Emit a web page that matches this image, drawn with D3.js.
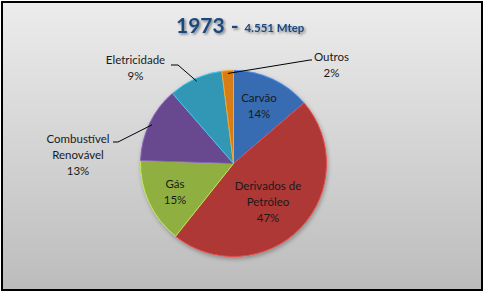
<!DOCTYPE html>
<html>
<head>
<meta charset="utf-8">
<script src="https://cdn.jsdelivr.net/npm/d3@7"></script>
<style>
  body { margin: 0; background: #fff; }
  svg text { font-family: Lato, "Open Sans", sans-serif; }
</style>
</head>
<body>
<svg id="chart" width="486" height="293"></svg>
<script>
// data (shares of 1973 final consumption)
const categories = ["Carvão", "Derivados de Petróleo", "Gás", "Combustível Renovável", "Eletricidade", "Outros"];
const shares = [13.7, 47.0, 14.8, 13.1, 9.4, 2.0];
const pctLabels = ["14%", "47%", "15%", "13%", "9%", "2%"];
const labelLines = [["Carvão"], ["Derivados de", "Petróleo"], ["Gás"], ["Combustível", "Renovável"], ["Eletricidade"], ["Outros"]];
const colors = ["#3f78c6", "#c23e3b", "#9fc446", "#7452a0", "#36a8c8", "#f08a1c"];

const W = 486, H = 293;
const svg = d3.select("#chart");
const defs = svg.append("defs");

// chart area background
const bg = defs.append("linearGradient").attr("id", "bg")
  .attr("x1", 0).attr("y1", 0).attr("x2", 0).attr("y2", 1);
bg.append("stop").attr("offset", "0%").attr("stop-color", "#ececec");
bg.append("stop").attr("offset", "100%").attr("stop-color", "#bcbcbc");

svg.append("rect")
  .attr("x", 2).attr("y", 2).attr("width", 480).attr("height", 288)
  .attr("fill", "url(#bg)")
  .attr("stroke", "#000").attr("stroke-width", 2);

// title
const shadow = defs.append("filter").attr("id", "tshadow")
  .attr("x", -0.2).attr("y", -0.3).attr("width", 1.4).attr("height", 1.6);
shadow.append("feDropShadow").attr("dx", 1.5).attr("dy", 1.5)
  .attr("stdDeviation", 1.2).attr("flood-color", "#000").attr("flood-opacity", 0.45);

const title = svg.append("text")
  .attr("x", 176).attr("y", 33)
  .attr("fill", "#1f497d")
  .attr("font-weight", "bold")
  .attr("filter", "url(#tshadow)");
title.append("tspan").attr("font-size", 21).text("1973");
title.append("tspan").attr("font-size", 21).attr("dx", 6).text("-");
title.append("tspan").attr("font-size", 11.5).attr("dx", 6).attr("dy", -1).text("4.551 Mtep");

// pie
const cx = 233.5, cy = 163.5, r = 93;
const pie = d3.pie().sort(null).value(d => d)
  .startAngle(0).endAngle(2 * Math.PI);
const arcs = pie(shares);
const arc = d3.arc().innerRadius(0).outerRadius(r);

colors.forEach((c, i) => {
  const g = defs.append("radialGradient").attr("id", "sl" + i)
    .attr("gradientUnits", "userSpaceOnUse")
    .attr("cx", cx).attr("cy", cy).attr("r", r)
    .attr("fx", cx - 20).attr("fy", cy - 25);
  g.append("stop").attr("offset", "0%").attr("stop-color", d3.color(c).brighter(0.15));
  g.append("stop").attr("offset", "88%").attr("stop-color", c);
  g.append("stop").attr("offset", "100%").attr("stop-color", d3.color(c).darker(0.3));
});

const pshadow = defs.append("filter").attr("id", "pshadow")
  .attr("x", -0.1).attr("y", -0.1).attr("width", 1.2).attr("height", 1.2);
pshadow.append("feDropShadow").attr("dx", 1).attr("dy", 2)
  .attr("stdDeviation", 2).attr("flood-color", "#000").attr("flood-opacity", 0.3);

const pg = svg.append("g").attr("transform", `translate(${cx},${cy})`)
  .attr("filter", "url(#pshadow)");
pg.selectAll("path")
  .data(arcs)
  .enter()
  .append("path")
  .attr("d", arc)
  .attr("fill", (d, i) => `url(#sl${i})`)
  .attr("stroke", (d, i) => d3.color(colors[i]).brighter(0.5))
  .attr("stroke-width", 1)
  .attr("stroke-linejoin", "round");

// labels
const labelPos = [
  [259, 102], [268, 190], [175, 188], [78, 143], [135.5, 64], [331.5, 61]
];
const lh = 16;
arcs.forEach((a, i) => {
  const [x, y] = labelPos[i];
  const t = svg.append("text")
    .attr("text-anchor", "middle")
    .attr("font-size", 11.5)
    .attr("fill", "#1a1a1a");
  const lines = labelLines[i].concat([pctLabels[i]]);
  lines.forEach((s, k) => {
    t.append("tspan").attr("x", x).attr("y", y + k * lh).text(s);
  });
});

// leader lines for the outside labels (from label to slice edge)
const leaders = [
  { i: 3, from: [113, 142], knee: [118, 142] },
  { i: 4, from: [171, 65], knee: [178, 65] },
  { i: 5, from: [312, 60], knee: [310, 60] }
];
leaders.forEach(l => {
  const a = arcs[l.i];
  const mid = (a.startAngle + a.endAngle) / 2;
  const ex = cx + Math.sin(mid) * r * 0.97;
  const ey = cy - Math.cos(mid) * r * 0.97;
  svg.append("polyline")
    .attr("points", [l.from, l.knee, [ex, ey]].map(p => p.join(",")).join(" "))
    .attr("fill", "none")
    .attr("stroke", "#000")
    .attr("stroke-width", 1);
});
</script>
</body>
</html>
